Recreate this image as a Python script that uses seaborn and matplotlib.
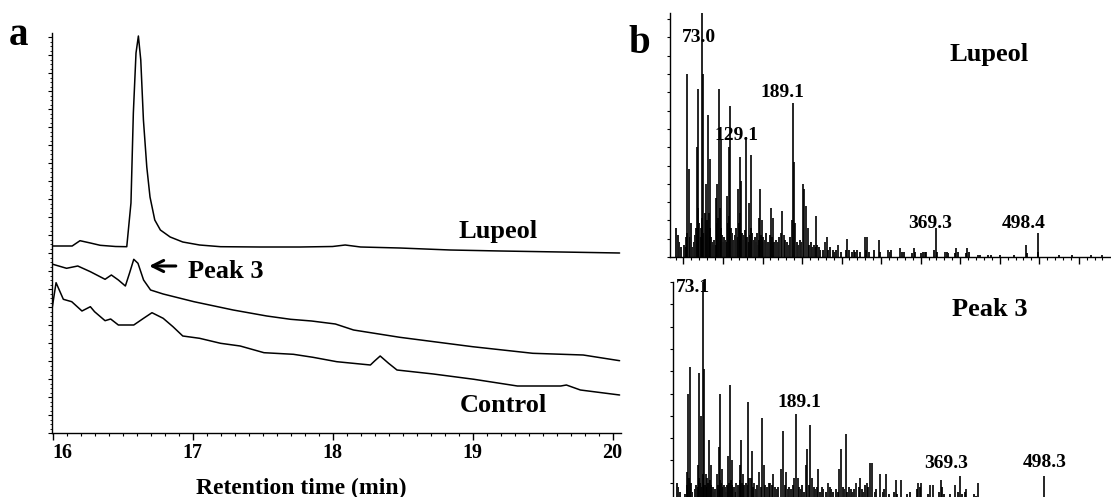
import numpy as np
import pandas as pd
import seaborn as sns
import matplotlib.pyplot as plt
from matplotlib.ticker import MultipleLocator

W, H = 1111, 497

# ---- panel a: GC traces (retention time, min / detector signal, a.u.)
lupeol_t = [15.996, 16.14, 16.196, 16.27, 16.34, 16.45, 16.53, 16.56, 16.577, 16.596,
            16.613, 16.63, 16.649, 16.673, 16.696, 16.73, 16.77, 16.84, 16.93, 17.05,
            17.2, 17.48, 17.77, 18.0, 18.09, 18.2, 18.48, 18.84, 19.2, 19.63, 20.05]
lupeol_s = [187, 187, 192.3, 190, 187.7, 186.5, 186.3, 230, 320, 380,
            397, 373, 313, 266, 236, 213, 203, 196, 191, 188,
            186.3, 186, 186, 186.5, 188, 186, 185, 183, 182, 181, 180]

peak3_t = [15.995, 16.10, 16.18, 16.27, 16.375, 16.42, 16.47, 16.52, 16.55, 16.58,
           16.61, 16.65, 16.70, 16.79, 17.01, 17.29, 17.53, 17.70, 17.85, 18.02,
           18.15, 18.48, 19.0, 19.43, 19.79, 20.05]
peak3_s = [169, 164.7, 167, 161.3, 153.7, 158, 153, 147, 160, 173.7,
           169.7, 153, 143, 139, 131.3, 123, 117, 113.7, 112, 109,
           103, 95.7, 86.3, 79.7, 78, 72.3]

control_t = [15.995, 16.025, 16.077, 16.137, 16.21, 16.27, 16.30, 16.375, 16.415, 16.47,
             16.58, 16.65, 16.71, 16.79, 16.86, 16.93, 17.05, 17.20, 17.34, 17.51,
             17.72, 17.86, 18.03, 18.27, 18.30, 18.34, 18.40, 18.46, 18.72, 19.01,
             19.32, 19.63, 19.67, 19.77, 20.05]
control_s = [123, 150.3, 133.7, 131.3, 122, 126.3, 121.3, 112.3, 114, 108,
             108, 114.7, 120.3, 114.7, 106.3, 97, 94.7, 89.7, 87, 80.3,
             78.7, 75.7, 71.3, 68, 72, 77, 69.7, 63, 59, 53.7,
             47, 47, 48, 43, 38]

time_ticks = [16, 17, 18, 19, 20]

# ---- panel b: mass spectra (m/z, relative intensity %)
lup_mz = [53, 55, 57, 67, 68, 69, 72, 73, 75, 79,
          81, 82, 83, 91, 93, 95, 96, 97, 105, 107,
          109, 119, 121, 122, 123, 129, 133, 135, 145, 147,
          149, 161, 163, 173, 175, 177, 187, 189, 190, 191,
          201, 203, 205, 207, 218, 229, 231, 246, 257, 266,
          279, 282, 297, 309, 324, 341, 355, 369, 381, 395,
          409, 423, 483, 498, 580]
lup_int = [8, 75, 36, 45, 20, 69, 12, 100, 75, 30,
           58, 18, 40, 24, 30, 69, 20, 48, 25, 45,
           62, 28, 41, 18, 31, 49, 22, 42, 16, 28,
           15, 20, 16, 10, 19, 9, 15, 63, 39, 14,
           30, 28, 21, 12, 17, 6, 8, 5, 7.5, 3,
           8, 8, 7, 3, 3.5, 3.5, 2, 12, 2, 3.5,
           3.5, 1, 5, 10, 1]

lup_minor_mz = [41, 43, 45, 47, 51, 52, 54, 58, 59, 60,
                61, 63, 65, 66, 70, 71, 74, 76, 77, 78,
                80, 84, 85, 86, 87, 89, 90, 92, 94, 98,
                99, 100, 101, 102, 103, 104, 106, 108, 110, 111,
                113, 115, 116, 117, 118, 120, 124, 125, 127, 128,
                131, 132, 134, 136, 137, 139, 141, 142, 143, 144,
                146, 148, 150, 151, 153, 155, 157, 159, 160, 162,
                165, 167, 169, 171, 179, 181, 183, 185, 193, 195,
                197, 199, 209, 211, 213, 215, 217, 219, 221, 223,
                227, 233, 235, 239, 241, 243, 249, 255, 259, 263,
                267, 269, 273, 281, 285, 291, 299, 311, 313, 327,
                329, 339, 343, 351, 353, 357, 367, 371, 383, 385,
                393, 397, 407, 411, 425, 435, 439, 451, 468, 484,
                499, 525, 541, 565]
lup_minor_int = [12, 9, 6, 4, 5, 4, 10, 8, 14, 5,
                 4, 6, 9, 12, 14, 8, 16, 10, 18, 9,
                 15, 12, 8, 6, 5, 7, 5, 14, 16, 12,
                 9, 6, 8, 5, 7, 6, 14, 17, 12, 10,
                 7, 9, 6, 12, 8, 14, 10, 7, 9, 11,
                 8, 6, 9, 12, 10, 7, 8, 6, 10, 5,
                 7, 9, 6, 8, 7, 10, 6, 9, 7, 8,
                 6, 7, 6, 8, 7, 6, 5, 8, 6, 5,
                 7, 6, 5, 6, 4, 5, 4, 5, 4, 3,
                 3, 3, 4, 3, 2, 3, 2, 3, 3, 2,
                 2, 3, 2, 3, 2, 3, 2, 2, 3, 2,
                 2, 1.5, 2, 1.5, 2, 2, 3, 2, 2, 1.5,
                 1.5, 2, 1.5, 2, 1, 1, 1, 1, 1, 1.5,
                 2, 1, 1, 1]

pk3_mz = [53, 55, 57, 67, 69, 71, 73, 75, 77, 79,
          81, 83, 91, 93, 95, 97, 105, 107, 109, 115,
          119, 121, 123, 129, 131, 135, 137, 143, 147, 149,
          157, 161, 171, 173, 177, 187, 189, 191, 201, 203,
          207, 209, 217, 229, 243, 245, 251, 264, 269, 277,
          281, 284, 293, 301, 313, 320, 341, 344, 356, 359,
          369, 387, 393, 401, 415, 498]
pk3_int = [15, 50, 62, 18, 59, 40, 100, 61, 14, 12,
           29, 18, 14, 26, 50, 16, 22, 54, 20, 10,
           18, 29, 14, 46, 12, 24, 10, 15, 39, 18,
           10, 14, 16, 33, 15, 12, 41, 12, 18, 25,
           36, 12, 16, 10, 16, 25, 32, 10, 12, 10,
           19, 19, 14, 14, 11, 11, 10, 10, 9, 9,
           11, 9, 13, 7, 10, 13]

pk3_minor_mz = [41, 43, 45, 51, 54, 56, 58, 59, 60, 63,
                65, 66, 68, 70, 72, 74, 76, 78, 80, 82,
                84, 85, 86, 87, 89, 92, 94, 96, 98, 99,
                100, 101, 102, 103, 104, 106, 108, 110, 111, 112,
                113, 117, 118, 120, 122, 124, 125, 127, 128, 133,
                136, 139, 141, 145, 151, 153, 155, 159, 163, 165,
                167, 175, 179, 181, 183, 185, 193, 195, 197, 199,
                205, 211, 213, 215, 219, 221, 223, 227, 231, 233,
                235, 239, 241, 247, 249, 253, 255, 257, 259, 261,
                267, 271, 273, 275, 279, 287, 289, 297, 299, 305,
                311, 315, 327, 331, 339, 343, 353, 367, 371, 373,
                381, 391, 395, 399, 411, 413, 419, 431, 441, 457,
                470, 485, 505, 527, 551]
pk3_minor_int = [10, 8, 6, 5, 9, 12, 8, 10, 6, 7,
                 9, 8, 12, 10, 8, 14, 9, 8, 10, 11,
                 9, 7, 8, 6, 7, 9, 11, 10, 8, 9,
                 7, 8, 6, 9, 8, 10, 11, 9, 7, 8,
                 6, 9, 8, 11, 10, 9, 8, 10, 9, 12,
                 8, 7, 9, 8, 9, 8, 10, 9, 8, 7,
                 8, 9, 7, 8, 7, 9, 8, 7, 9, 6,
                 9, 8, 7, 8, 6, 8, 7, 6, 8, 7,
                 6, 7, 6, 8, 7, 6, 8, 7, 6, 7,
                 8, 7, 6, 9, 8, 6, 7, 6, 7, 5,
                 6, 5, 5, 6, 7, 8, 5, 6, 8, 5,
                 5, 6, 5, 6, 5, 4, 3, 3, 2, 2,
                 2, 2, 1.5, 1.5, 1]

lup_labels = ["73.0", "129.1", "189.1", "369.3", "498.4"]
pk3_labels = ["73.1", "189.1", "369.3", "498.3"]


sns.set_style("ticks", {"axes.edgecolor": "black", "xtick.color": "black",
                        "ytick.color": "black", "text.color": "black"})
plt.rcParams['font.family'] = ['Liberation Serif', 'DejaVu Serif']
plt.rcParams['font.weight'] = 'bold'

fig = plt.figure(figsize=(W / 100, H / 100), dpi=100)


def px_axes(left, top, right, bottom):
    return fig.add_axes([left / W, 1 - bottom / H, (right - left) / W, (bottom - top) / H])


# ---------------- panel a
ax = px_axes(52, 33, 621, 433)
traces = pd.concat([
    pd.DataFrame({'time': lupeol_t, 'signal': lupeol_s, 'trace': 'Lupeol'}),
    pd.DataFrame({'time': peak3_t, 'signal': peak3_s, 'trace': 'Peak 3'}),
    pd.DataFrame({'time': control_t, 'signal': control_s, 'trace': 'Control'}),
])
sns.lineplot(data=traces, x='time', y='signal', units='trace', estimator=None,
             color='black', lw=1.1, ax=ax, legend=False)
ax.set_xlim(15.996, 20.06)
ax.set_ylim(0, 400)
ax.set_xlabel('')
ax.set_ylabel('')
sns.despine(ax=ax)
for sp in ['left', 'bottom']:
    ax.spines[sp].set_linewidth(1)
ax.set_xticks(time_ticks)
ax.set_xticklabels([str(t) for t in time_ticks])
ax.get_xticklabels()[0].set_horizontalalignment('left')
ax.xaxis.set_minor_locator(MultipleLocator(0.1))
ax.yaxis.set_major_locator(MultipleLocator(18))
ax.yaxis.set_minor_locator(MultipleLocator(4.5))
ax.tick_params(axis='x', which='major', length=5, width=1, labelsize=14.5, pad=2)
ax.tick_params(axis='x', which='minor', length=2.5, width=0.8)
ax.tick_params(axis='y', which='major', length=3, width=0.8, labelleft=False)
ax.tick_params(axis='y', which='minor', length=1.5, width=0.6)

ax.text(18.90, 195, 'Lupeol', fontsize=19, va='baseline')
ax.text(16.97, 155, 'Peak 3', fontsize=19, va='baseline')
ax.text(18.91, 21, 'Control', fontsize=19, va='baseline')
ax.annotate('', xy=(16.67, 167), xytext=(16.90, 167),
            arrowprops=dict(arrowstyle='->', lw=2.2, color='black', mutation_scale=20))

fig.text(301 / W, 1 - 494 / H, 'Retention time (min)', fontsize=17,
         ha='center', va='baseline')
fig.text(9 / W, 1 - 45 / H, 'a', fontsize=28, va='baseline')
fig.text(628 / W, 1 - 53 / H, 'b', fontsize=28, va='baseline')


# ---------------- panel b
def spectrum(ax, mz, inten, mz_minor, inten_minor, xlim, ystep):
    ax.vlines(mz_minor, 0, inten_minor, color='#1a1a1a', lw=1.4)
    ax.vlines(mz, 0, inten, color='black', lw=1.2)
    ax.set_xlim(*xlim)
    ax.set_ylim(0, 100)
    sns.despine(ax=ax)
    for sp in ['left', 'bottom']:
        ax.spines[sp].set_linewidth(1)
    ax.xaxis.set_major_locator(MultipleLocator(50))
    ax.xaxis.set_minor_locator(MultipleLocator(10))
    ax.yaxis.set_major_locator(MultipleLocator(ystep))
    ax.tick_params(axis='x', which='major', length=5, width=1, labelbottom=False)
    ax.tick_params(axis='x', which='minor', length=2.5, width=0.8)
    ax.tick_params(axis='y', which='major', length=2.5, width=0.8, labelleft=False)


ax1 = px_axes(670, 13, 1110, 257)
spectrum(ax1, lup_mz, lup_int, lup_minor_mz, lup_minor_int, (33, 589.5), 7.5)
lab_kw = dict(fontsize=14, ha='center', va='baseline')
ax1.text(70.2, 88, lup_labels[0], **lab_kw)
ax1.text(117, 48, lup_labels[1], **lab_kw)
ax1.text(175.2, 65.6, lup_labels[2], **lab_kw)
ax1.text(361.8, 11.9, lup_labels[3], **lab_kw)
ax1.text(480, 11.9, lup_labels[4], **lab_kw)
ax1.text(387, 80.5, 'Lupeol', fontsize=19, va='baseline')

ax2 = px_axes(672.7, 282, 1110, 505)
spectrum(ax2, pk3_mz, pk3_int, pk3_minor_mz, pk3_minor_int, (35.8, 579.5), 10)
ax2.text(60.4, 95.5, pk3_labels[0], **lab_kw)
ax2.text(193.3, 43.9, pk3_labels[1], **lab_kw)
ax2.text(375.3, 16.6, pk3_labels[2], **lab_kw)
ax2.text(498.2, 17, pk3_labels[3], **lab_kw)
ax2.text(382.7, 84.8, 'Peak 3', fontsize=19, va='baseline')

fig.savefig('out.png', dpi=100)
